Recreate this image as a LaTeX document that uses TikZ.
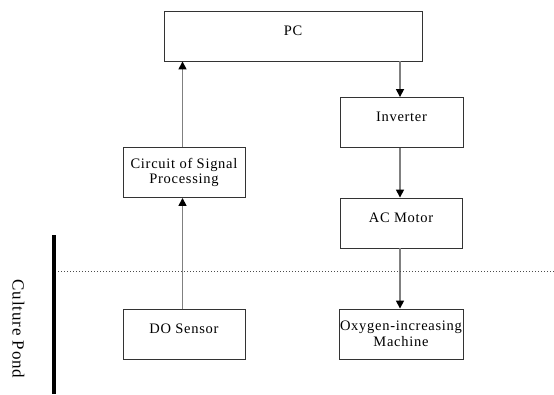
\documentclass[tikz,border=0pt]{standalone}
\usepackage{fontspec}
\setmainfont{Liberation Serif}[LetterSpace=5]
\usetikzlibrary{arrows.meta}
\begin{document}
\begin{tikzpicture}[x=1pt,y=-1pt,
    box/.style={draw=black!80, line width=0.9pt, minimum height=50pt, inner sep=1pt, align=center, font=\fontsize{14.5}{15.5}\selectfont},
    onebox/.style={box, text height=10pt, text depth=12pt},
    flow/.style={draw=black!50, line width=1.6pt, -{Triangle[black,length=8pt,width=8pt]}}]
        \useasboundingbox (0,0) rectangle (554,394);
        \node[onebox, minimum width=258pt] (pc) at (293,36) {PC};
        \node[onebox, minimum width=123pt] (inv) at (401.5,122.5) {Inverter};
        \node[box, minimum width=122pt, minimum height=50pt] (circ) at (184,172.5) {Circuit of Signal\\Processing};
        \node[onebox, minimum width=122pt] (motor) at (401,223) {AC Motor};
        \node[onebox, minimum width=122pt] (sensor) at (184,334.5) {DO Sensor};
        \node[box, minimum width=122pt] (machine) at (401,334) {Oxygen-increasing\\Machine};
        \node[rotate=-90, font=\fontsize{17}{19}\selectfont] (pond) at (18.5,329) {Culture Pond};
        \draw[flow] (circ.north -| 182.5,0) -- (pc.south -| 182.5,0);
        \draw[flow] (sensor.north -| 182.5,0) -- (circ.south -| 182.5,0);
        \draw[flow] (pc.south -| 400,0) -- (inv.north -| 400,0);
        \draw[flow] (inv.south -| 400,0) -- (motor.north -| 400,0);
        \draw[flow] (motor.south -| 400,0) -- (machine.north -| 400,0);
        \coordinate (wl) at (58,271);
        \coordinate (wr) at (554,271);
        \draw[black!70, line width=1pt, dotted] (wl) -- (wr);
        \draw[line width=3.5pt] (54,235) -- (54,394);
\end{tikzpicture}
\end{document}
